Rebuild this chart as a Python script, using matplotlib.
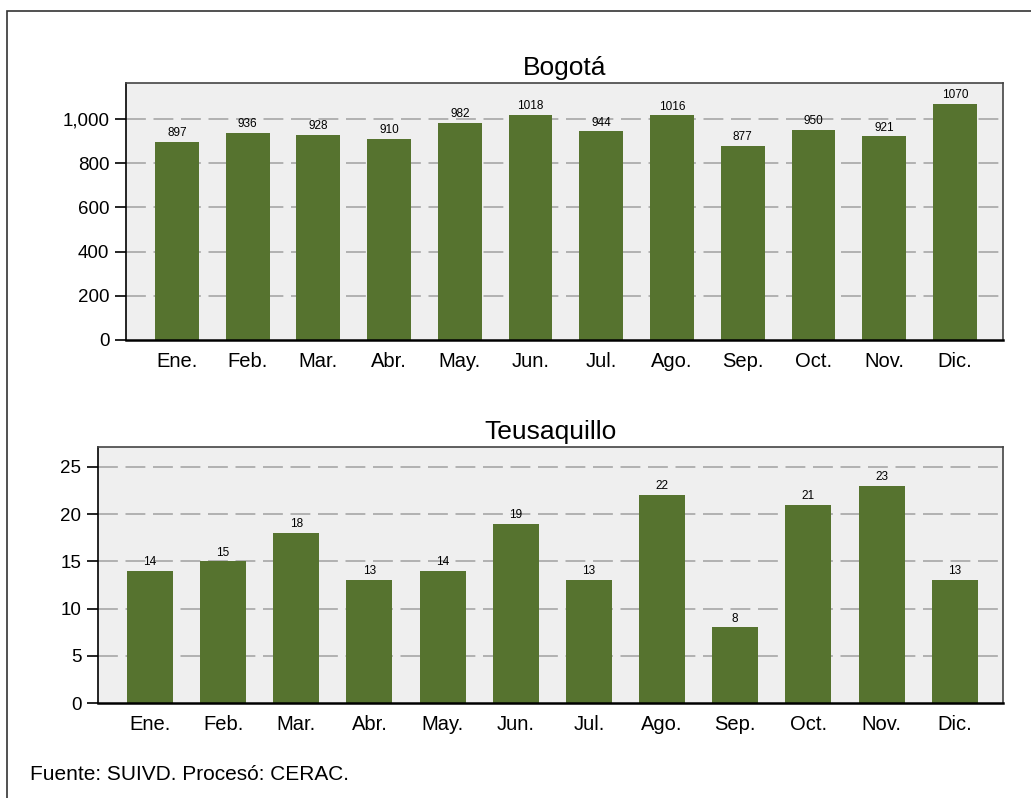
import matplotlib.pyplot as plt
from matplotlib.patches import Rectangle

plt.rcParams['font.family'] = ['Liberation Sans', 'DejaVu Sans']

# Data
months = ['Ene.', 'Feb.', 'Mar.', 'Abr.', 'May.', 'Jun.',
          'Jul.', 'Ago.', 'Sep.', 'Oct.', 'Nov.', 'Dic.']
bogota = [897, 936, 928, 910, 982, 1018, 944, 1016, 877, 950, 921, 1070]
teusaquillo = [14, 15, 18, 13, 14, 19, 13, 22, 8, 21, 23, 13]

green = '#56732F'
bg = '#EFEFEF'
W, H = 1031, 798

fig = plt.figure(figsize=(W / 100, H / 100), dpi=100)

# outer frame (runs off the right/bottom edge)
fig.patches.append(Rectangle((7 / W, -0.1), 1.2, 1 - 11 / H + 0.1,
                             transform=fig.transFigure, fill=False,
                             edgecolor='#333333', linewidth=1.2))


def px_axes(l, t, r, b):
    return fig.add_axes([l / W, 1 - b / H, (r - l) / W, (b - t) / H])


def style(ax, ymax, ticks, fmt, title):
    ax.set_facecolor(bg)
    ax.set_ylim(0, ymax)
    ax.set_yticks(ticks)
    ax.set_yticklabels([fmt(t) for t in ticks], fontsize=13.5)
    ax.set_xticks(range(len(months)))
    ax.set_xticklabels(months, fontsize=14.5)
    ax.tick_params(axis='x', length=0, pad=8.5)
    ax.tick_params(axis='y', length=8, width=1.2, direction='out', pad=4)
    for t in ticks[1:]:
        ax.axhline(t, color='#A0A0A0', linestyle=(0, (13, 5)), linewidth=1.1, zorder=1)
    ax.spines['left'].set_linewidth(1.2)
    ax.spines['bottom'].set_linewidth(1.8)
    for s in ['top', 'right']:
        ax.spines[s].set_color('#444444')
        ax.spines[s].set_linewidth(1.2)
    ax.set_title(title, fontsize=19, pad=6)


# Bogotá
ax1 = px_axes(126, 83, 1003, 340)
bars1 = ax1.bar(range(len(months)), bogota, width=0.62, color=green, zorder=2)
ax1.bar_label(bars1, labels=[str(v) for v in bogota], fontsize=8.5, padding=2)
ax1.set_xlim(-0.72, 11.68)
style(ax1, 1163, [0, 200, 400, 600, 800, 1000], lambda t: f'{t:,}', 'Bogotá')

# Teusaquillo
ax2 = px_axes(98, 447, 1003, 703)
bars2 = ax2.bar(range(len(months)), teusaquillo, width=0.63, color=green, zorder=2)
ax2.bar_label(bars2, labels=[str(v) for v in teusaquillo], fontsize=8.5, padding=2)
ax2.set_xlim(-0.71, 11.66)
style(ax2, 27.1, [0, 5, 10, 15, 20, 25], lambda t: str(t), 'Teusaquillo')

fig.text(30 / W, 1 - 774 / H, 'Fuente: SUIVD. Procesó: CERAC.', fontsize=15,
         va='center', ha='left')

fig.savefig('out.png', dpi=100)
